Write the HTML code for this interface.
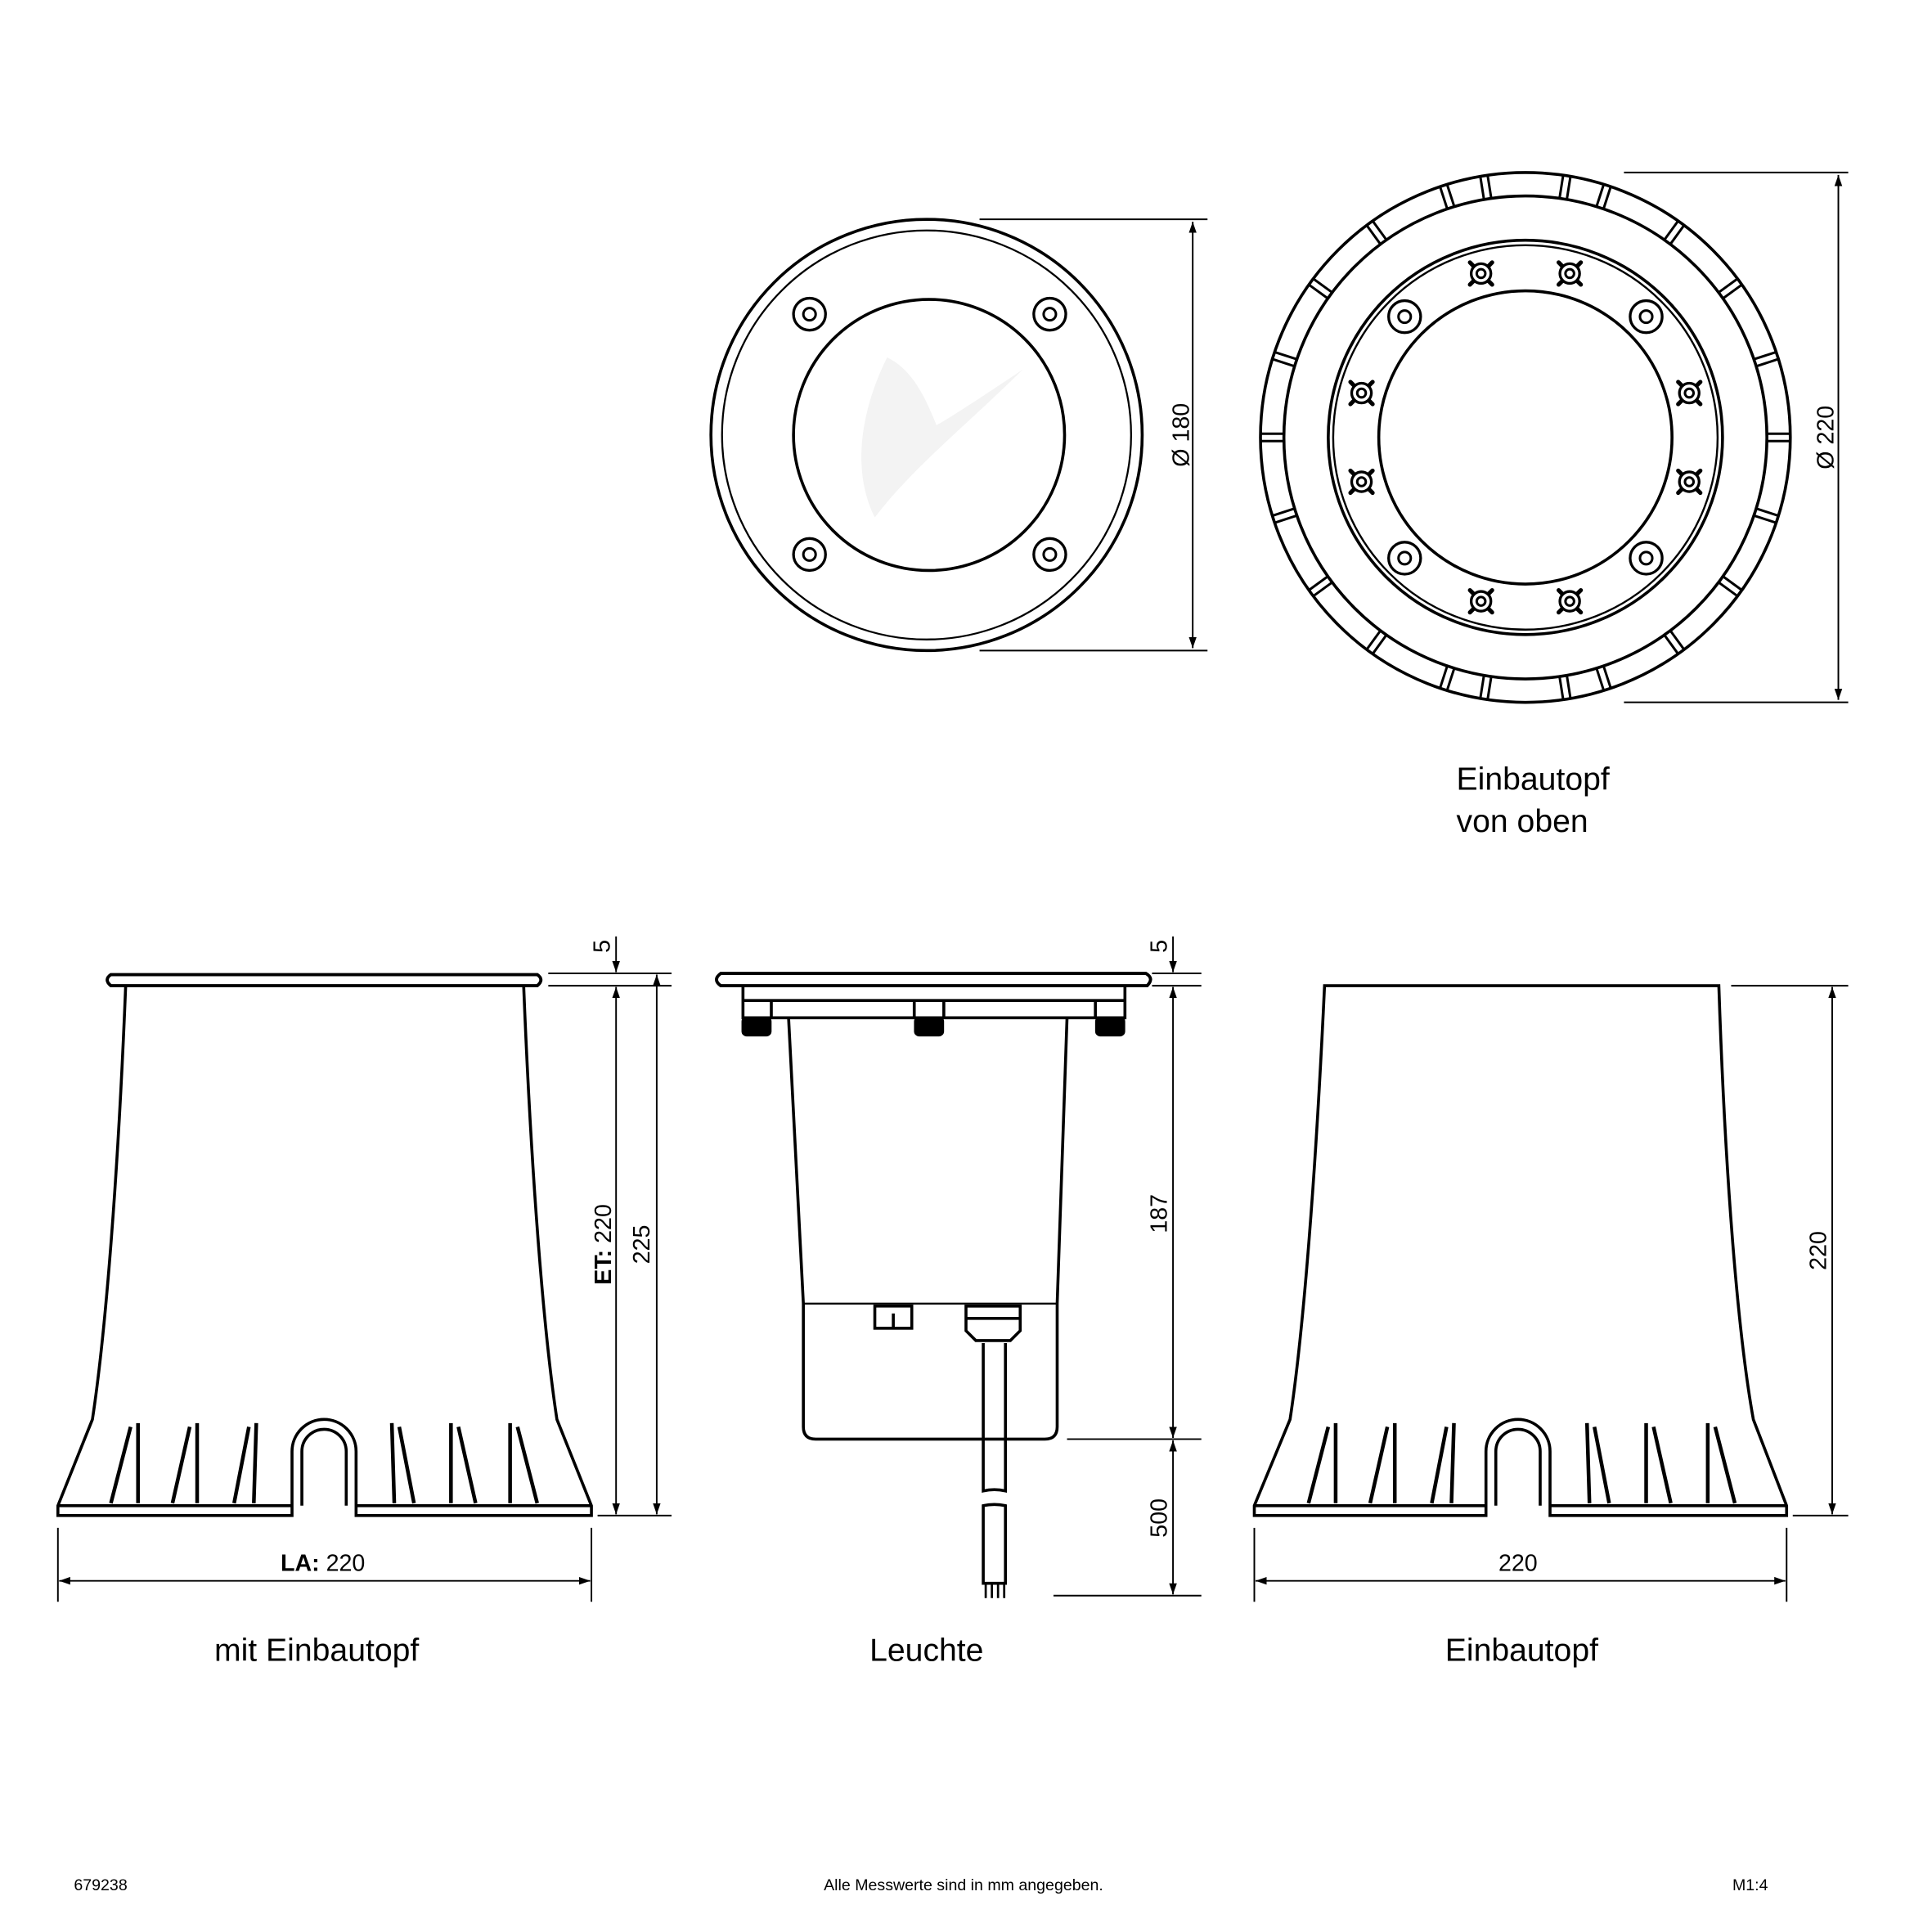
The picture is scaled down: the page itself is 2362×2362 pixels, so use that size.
<!DOCTYPE html>
<html><head><style>html,body{margin:0;padding:0;background:#fff}svg{display:block}</style></head><body>
<svg width="2362" height="2362" viewBox="0 0 1568 1568" xmlns="http://www.w3.org/2000/svg" font-family="Liberation Sans, sans-serif">
<defs>
<marker id="a" viewBox="0 0 10 10" refX="10" refY="5" markerWidth="9" markerHeight="9" orient="auto-start-reverse" markerUnits="userSpaceOnUse"><path d="M0,1.5 L10,5 L0,8.5Z" fill="#000"/></marker>
<g id="claw"><path d="M6,-6 l3,-3 M-6,-6 l-3,-3 M6,6 l3,3 M-6,6 l-3,3" stroke="#000" stroke-width="3.4" stroke-linecap="round"/><circle r="8" fill="#fff" stroke="#000" stroke-width="2.2"/><circle r="3.5" fill="none" stroke="#000" stroke-width="2"/></g>
<g id="bscrew"><circle r="13" fill="none" stroke="#000" stroke-width="2.2"/><circle r="5" fill="none" stroke="#000" stroke-width="2"/></g>
<g id="tk"><line x1="-3" y1="-196" x2="-3" y2="-215"/><line x1="3" y1="-196" x2="3" y2="-215"/></g>
</defs>
<g stroke="#000" fill="none" stroke-width="2.4">
<circle cx="752" cy="353" r="175"/>
<circle cx="752" cy="353" r="166" stroke-width="1.5"/>
<circle cx="754" cy="353" r="110"/>
<path d="M720,290 C700,330 690,380 710,420 C740,380 790,340 830,300 C800,320 770,340 760,345 C750,320 740,300 720,290Z" fill="#f3f3f3" stroke="none"/>
<use href="#bscrew" x="657" y="255"/><use href="#bscrew" x="852" y="255"/><use href="#bscrew" x="657" y="450"/><use href="#bscrew" x="852" y="450"/>
<g stroke-width="1.3"><line x1="795" y1="178" x2="980" y2="178"/><line x1="795" y1="528" x2="980" y2="528"/>
<line x1="968" y1="180" x2="968" y2="526" marker-start="url(#a)" marker-end="url(#a)"/></g>

<g transform="translate(1238,355)">
<circle r="215"/><circle r="196"/><circle r="160"/><circle r="156" stroke-width="1.6"/><circle r="119"/>
<g stroke-width="2">
<use href="#tk" transform="rotate(9)"/><use href="#tk" transform="rotate(-9)"/><use href="#tk" transform="rotate(171)"/><use href="#tk" transform="rotate(189)"/>
<use href="#tk" transform="rotate(18)"/><use href="#tk" transform="rotate(36)"/><use href="#tk" transform="rotate(54)"/><use href="#tk" transform="rotate(72)"/><use href="#tk" transform="rotate(90)"/>
<use href="#tk" transform="rotate(108)"/><use href="#tk" transform="rotate(126)"/><use href="#tk" transform="rotate(144)"/><use href="#tk" transform="rotate(162)"/>
<use href="#tk" transform="rotate(-18)"/><use href="#tk" transform="rotate(-36)"/><use href="#tk" transform="rotate(-54)"/><use href="#tk" transform="rotate(-72)"/><use href="#tk" transform="rotate(-90)"/>
<use href="#tk" transform="rotate(-108)"/><use href="#tk" transform="rotate(-126)"/><use href="#tk" transform="rotate(-144)"/><use href="#tk" transform="rotate(-162)"/>
</g>
<use href="#bscrew" x="-98" y="-98"/><use href="#bscrew" x="98" y="-98"/><use href="#bscrew" x="-98" y="98"/><use href="#bscrew" x="98" y="98"/>
<use href="#claw" x="-36" y="-133"/><use href="#claw" x="36" y="-133"/><use href="#claw" x="-36" y="133"/><use href="#claw" x="36" y="133"/>
<use href="#claw" x="-133" y="-36"/><use href="#claw" x="133" y="-36"/><use href="#claw" x="-133" y="36"/><use href="#claw" x="133" y="36"/>
</g>
<g stroke-width="1.3"><line x1="1318" y1="140" x2="1500" y2="140"/><line x1="1318" y1="570" x2="1500" y2="570"/>
<line x1="1492" y1="142" x2="1492" y2="568" marker-start="url(#a)" marker-end="url(#a)"/></g>

<path d="M90,791 L436,791 Q442,795 436,800 L90,800 Q84,795 90,791Z" stroke-width="2.6"/>
<path d="M102,800 C96,950 86,1080 75,1152 L47,1222 L47,1230 L237,1230 L237,1178 A26,26 0 0 1 289,1178 L289,1230 L480,1230 L480,1222 L452,1152 C441,1080 431,950 425,800"/>
<line x1="47" y1="1222" x2="237" y2="1222"/><line x1="289" y1="1222" x2="480" y2="1222"/>
<path d="M245,1222 L245,1178 A18,18 0 0 1 281,1178 L281,1222"/>
<g stroke-width="3"><path d="M112,1155 L112,1220 M106,1158 L90,1220"/><path d="M160,1155 L160,1220 M154,1158 L140,1220"/><path d="M208,1155 L206,1220 M202,1158 L190,1220"/>
<path d="M318,1155 L320,1220 M324,1158 L336,1220"/><path d="M366,1155 L366,1220 M372,1158 L386,1220"/><path d="M414,1155 L414,1220 M420,1158 L436,1220"/></g>
<g stroke-width="1.3"><line x1="445" y1="790" x2="545" y2="790"/><line x1="445" y1="800" x2="545" y2="800"/><line x1="485" y1="1230" x2="545" y2="1230"/>
<line x1="500" y1="760" x2="500" y2="789" marker-end="url(#a)"/>
<line x1="500" y1="801" x2="500" y2="1229" marker-start="url(#a)" marker-end="url(#a)"/>
<line x1="533" y1="791" x2="533" y2="1229" marker-start="url(#a)" marker-end="url(#a)"/>
<line x1="47" y1="1240" x2="47" y2="1300"/><line x1="480" y1="1240" x2="480" y2="1300"/>
<line x1="48" y1="1283" x2="479" y2="1283" marker-start="url(#a)" marker-end="url(#a)"/></g>

<path d="M585,790 L930,790 Q937,794 931,800 L585,800 Q578,795 585,790Z" stroke-width="2.6"/>
<path d="M603,800 L603,826 L913,826 L913,800 M603,812 L913,812"/>
<rect x="603" y="826" width="22" height="14" rx="3" fill="#000"/><rect x="743" y="826" width="22" height="14" rx="3" fill="#000"/><rect x="890" y="826" width="22" height="14" rx="3" fill="#000"/>
<path d="M626,812 L626,826 M742,812 L742,826 M766,812 L766,826 M889,812 L889,826"/>
<path d="M640,826 L652,1058 L652,1158 Q652,1168 662,1168 L848,1168 Q858,1168 858,1158 L858,1058 L866,826"/>
<line x1="652" y1="1058" x2="858" y2="1058" stroke-width="1.5"/>
<rect x="710" y="1060" width="30" height="18"/><line x1="725" y1="1066" x2="725" y2="1078"/>
<path d="M784,1060 L828,1060 L828,1080 L820,1088 L792,1088 L784,1080Z M784,1070 L828,1070" fill="#fff"/>
<path d="M798,1090 L798,1210 Q807,1208 816,1210 L816,1090"/>
<path d="M798,1285 L798,1222 Q807,1220 816,1222 L816,1285 Z"/>
<path d="M800,1285 L800,1297 M805,1285 L805,1297 M810,1285 L810,1297 M815,1285 L815,1297" stroke-width="1.8"/>
<g stroke-width="1.3"><line x1="935" y1="790" x2="975" y2="790"/><line x1="935" y1="800" x2="975" y2="800"/>
<line x1="866" y1="1168" x2="975" y2="1168"/><line x1="855" y1="1295" x2="975" y2="1295"/>
<line x1="952" y1="760" x2="952" y2="789" marker-end="url(#a)"/>
<line x1="952" y1="801" x2="952" y2="1167" marker-start="url(#a)" marker-end="url(#a)"/>
<line x1="952" y1="1169" x2="952" y2="1294" marker-start="url(#a)" marker-end="url(#a)"/></g>

<path d="M1075,800 L1395,800 C1400,950 1410,1080 1423,1152 L1450,1222 L1450,1230 L1258,1230 L1258,1178 A26,26 0 0 0 1206,1178 L1206,1230 L1018,1230 L1018,1222 L1047,1152 C1058,1080 1068,950 1075,800Z"/>
<line x1="1018" y1="1222" x2="1206" y2="1222"/><line x1="1258" y1="1222" x2="1450" y2="1222"/>
<path d="M1214,1222 L1214,1178 A18,18 0 0 1 1250,1178 L1250,1222"/>
<g stroke-width="3"><path d="M1084,1155 L1084,1220 M1078,1158 L1062,1220"/><path d="M1132,1155 L1132,1220 M1126,1158 L1112,1220"/><path d="M1180,1155 L1178,1220 M1174,1158 L1162,1220"/>
<path d="M1288,1155 L1290,1220 M1294,1158 L1306,1220"/><path d="M1336,1155 L1336,1220 M1342,1158 L1356,1220"/><path d="M1386,1155 L1386,1220 M1392,1158 L1408,1220"/></g>
<g stroke-width="1.3"><line x1="1405" y1="800" x2="1500" y2="800"/><line x1="1455" y1="1230" x2="1500" y2="1230"/>
<line x1="1487" y1="801" x2="1487" y2="1229" marker-start="url(#a)" marker-end="url(#a)"/>
<line x1="1018" y1="1240" x2="1018" y2="1300"/><line x1="1450" y1="1240" x2="1450" y2="1300"/>
<line x1="1019" y1="1283" x2="1449" y2="1283" marker-start="url(#a)" marker-end="url(#a)"/></g>
</g>

<g fill="#000" font-size="19">
<text transform="translate(965,353) rotate(-90)" text-anchor="middle">Ø 180</text>
<text transform="translate(1488,355) rotate(-90)" text-anchor="middle">Ø 220</text>
<text transform="translate(495,768) rotate(-90)" text-anchor="middle">5</text>
<text transform="translate(947,768) rotate(-90)" text-anchor="middle">5</text>
<text transform="translate(496,1010) rotate(-90)" text-anchor="middle"><tspan font-weight="bold">ET:</tspan> 220</text>
<text transform="translate(527,1010) rotate(-90)" text-anchor="middle">225</text>
<text transform="translate(947,985) rotate(-90)" text-anchor="middle">187</text>
<text transform="translate(947,1232) rotate(-90)" text-anchor="middle">500</text>
<text transform="translate(1482,1015) rotate(-90)" text-anchor="middle">220</text>
<text x="262" y="1275" text-anchor="middle"><tspan font-weight="bold">LA:</tspan> 220</text>
<text x="1232" y="1275" text-anchor="middle">220</text>
</g>
<g fill="#000" font-size="26">
<text x="1182" y="641">Einbautopf</text>
<text x="1182" y="675">von oben</text>
<text x="257" y="1348" text-anchor="middle">mit Einbautopf</text>
<text x="752" y="1348" text-anchor="middle">Leuchte</text>
<text x="1235" y="1348" text-anchor="middle">Einbautopf</text>
</g>
<g fill="#000" font-size="13">
<text x="60" y="1534">679238</text>
<text x="782" y="1534" text-anchor="middle">Alle Messwerte sind in mm angegeben.</text>
<text x="1406" y="1534">M1:4</text>
</g>
</svg>
</body></html>
